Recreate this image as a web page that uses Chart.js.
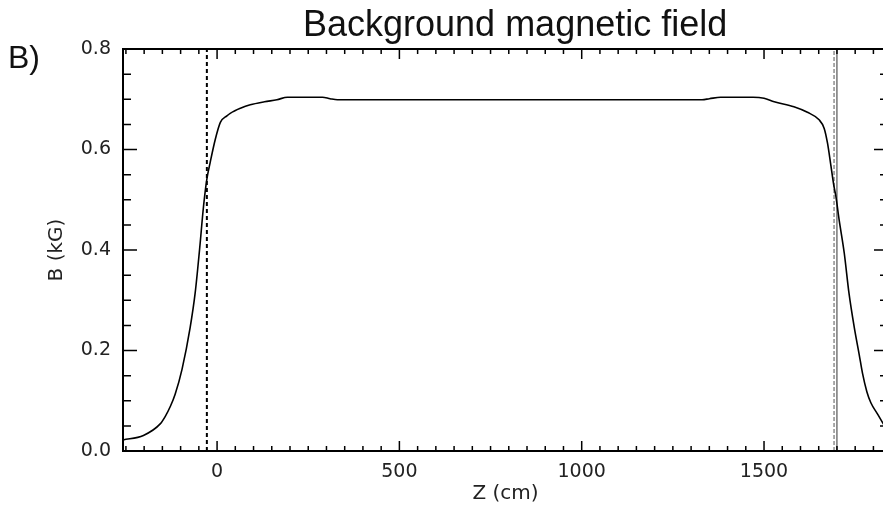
<!DOCTYPE html>
<html>
<head>
<meta charset="utf-8">
<script src="https://cdn.jsdelivr.net/npm/chart.js@4.4.0/dist/chart.umd.min.js"></script>
<style>
html, body { margin: 0; padding: 0; background: #fff; overflow: hidden; width: 883px; height: 516px; }
#wrap { position: relative; width: 900px; height: 516px; }
#title { position: absolute; left: 303px; top: 6px; font: 36px "Liberation Sans", Arial, sans-serif; line-height: 1; color: #111; white-space: nowrap; }
#panel { position: absolute; left: 8px; top: 41px; font: 32px "Liberation Sans", Arial, sans-serif; line-height: 1; color: #111; }
</style>
</head>
<body>
<div id="wrap">
  <canvas id="fieldChart" width="900" height="516"></canvas>
  <div id="title">Background magnetic field</div>
  <div id="panel">B)</div>
</div>
<script>
// field profile: Z (cm) -> B (kG)
var zPos = [-258, -202, -156, -142, -128, -115, -96, -74, -60, -48, -37, -28, -19, -5, 9, 27, 36, 64, 91, 130, 164,
            193, 289, 310, 330, 1330, 1350, 1381, 1470, 1500, 1528, 1582, 1619, 1651, 1665, 1674, 1683,
            1692, 1697, 1706, 1720, 1733, 1747, 1761, 1770, 1782, 1793, 1811, 1828, 1840];
var bField = [0.022, 0.031, 0.054, 0.069, 0.089, 0.113, 0.163, 0.245, 0.315, 0.401, 0.488, 0.541, 0.574, 0.620, 0.654, 0.667, 0.672, 0.682, 0.689, 0.695, 0.699,
              0.704, 0.704, 0.701, 0.699, 0.699, 0.701, 0.704, 0.704, 0.702, 0.695, 0.685, 0.674, 0.659, 0.642, 0.613, 0.570,
              0.526, 0.507, 0.460, 0.394, 0.314, 0.248, 0.192, 0.155, 0.118, 0.096, 0.074, 0.053, 0.040];

// vertical markers
var dashedZ = [-28, 1692];
var solidZ = [1700];

// axes
var xMin = -258, xMax = 1840;
var yMin = 0, yMax = 0.8;
var xTickValues = [0, 500, 1000, 1500];
var yTickValues = [0, 0.2, 0.4, 0.6, 0.8];

function vline(z) {
    return [{x: z, y: yMin}, {x: z, y: yMax}];
}

// box + inward IDL-style tick marks on all four sides
var frameTicks = {
    id: 'frameTicks',
    afterDatasetsDraw: function(chart) {
        var ctx = chart.ctx, a = chart.chartArea, x = chart.scales.x, y = chart.scales.y;
        ctx.save();
        ctx.strokeStyle = '#000';
        ctx.lineWidth = 2;
        ctx.strokeRect(a.left, a.top, a.right - a.left, a.bottom - a.top);
        ctx.lineWidth = 1.5;
        ctx.beginPath();
        for (var v = -250; v <= xMax; v += 50) {
            var px = x.getPixelForValue(v);
            var len = v % 500 === 0 ? 10 : 5;
            ctx.moveTo(px, a.bottom); ctx.lineTo(px, a.bottom - len);
            ctx.moveTo(px, a.top); ctx.lineTo(px, a.top + len);
        }
        for (var i = 0; i <= 16; i++) {
            var py = y.getPixelForValue(i * 0.05);
            var l2 = i % 4 === 0 ? 14 : 8;
            ctx.moveTo(a.left, py); ctx.lineTo(a.left + l2, py);
            ctx.moveTo(a.right, py); ctx.lineTo(a.right - l2, py);
        }
        ctx.stroke();
        ctx.restore();
    }
};

var tickFont = {family: '"DejaVu Sans", sans-serif', size: 19};

var ctx = document.getElementById('fieldChart');
var fieldChart = new Chart(ctx, {
    type: 'scatter',
    data: {
        datasets: [
            {
                label: 'B',
                data: zPos.map(function(z, i) { return {x: z, y: bField[i]}; }),
                showLine: true,
                borderColor: '#000',
                borderWidth: 1.6,
                pointRadius: 0,
                cubicInterpolationMode: 'monotone'
            },
            {
                data: vline(dashedZ[0]),
                showLine: true,
                borderColor: '#000',
                borderWidth: 2,
                borderDash: [4, 3],
                pointRadius: 0
            },
            {
                data: vline(dashedZ[1]),
                showLine: true,
                borderColor: '#555',
                borderWidth: 1,
                borderDash: [4, 2],
                pointRadius: 0
            },
            {
                data: vline(solidZ[0]),
                showLine: true,
                borderColor: '#333',
                borderWidth: 1,
                pointRadius: 0
            }
        ]
    },
    options: {
        responsive: false,
        animation: false,
        layout: {padding: {top: 49, right: 12, bottom: 0, left: 0}},
        plugins: {
            legend: {display: false},
            tooltip: {enabled: false}
        },
        scales: {
            x: {
                type: 'linear',
                min: xMin,
                max: xMax,
                grid: {display: false, drawTicks: false},
                border: {display: false},
                afterBuildTicks: function(s) { s.ticks = xTickValues.map(function(v) { return {value: v}; }); },
                afterFit: function(s) { s.height = 65; },
                ticks: {font: tickFont, color: '#222', padding: 10, maxRotation: 0,
                        callback: function(v) { return String(v); }},
                title: {display: true, text: 'Z (cm)', color: '#222',
                        font: {family: '"DejaVu Sans", sans-serif', size: 20},
                        padding: {top: 0, bottom: 10}}
            },
            y: {
                type: 'linear',
                min: yMin,
                max: yMax,
                grid: {display: false, drawTicks: false},
                border: {display: false},
                afterBuildTicks: function(s) { s.ticks = yTickValues.map(function(v) { return {value: v}; }); },
                afterFit: function(s) { s.width = 123; },
                ticks: {font: tickFont, color: '#222', padding: 12,
                        callback: function(v) { return v.toFixed(1); }},
                title: {display: true, text: 'B (kG)', color: '#222',
                        font: {family: '"DejaVu Sans", sans-serif', size: 20},
                        padding: {top: 45, bottom: 0}}
            }
        }
    },
    plugins: [frameTicks]
});
</script>
</body>
</html>
